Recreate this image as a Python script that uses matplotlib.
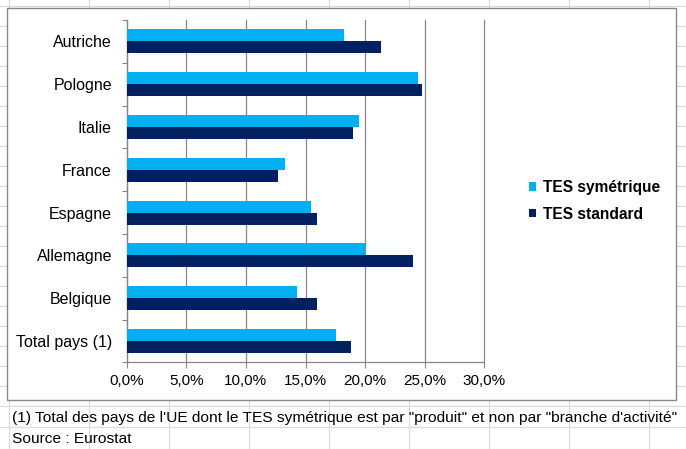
import matplotlib
matplotlib.use("Agg")
import matplotlib.pyplot as plt
from matplotlib.patches import Rectangle, Patch
import numpy as np

plt.rcParams['font.family'] = ['Liberation Sans', 'DejaVu Sans']

# ---- data ----
categories = ["Autriche", "Pologne", "Italie", "France", "Espagne",
              "Allemagne", "Belgique", "Total pays (1)"]
tes_symetrique = [18.2, 24.4, 19.5, 13.3, 15.5, 20.0, 14.3, 17.6]
tes_standard = [21.3, 24.8, 19.0, 12.7, 16.0, 24.0, 16.0, 18.8]
series_labels = ["TES symétrique", "TES standard"]
xticks = [0, 5, 10, 15, 20, 25, 30]
xtick_labels = ["0,0%", "5,0%", "10,0%", "15,0%", "20,0%", "25,0%", "30,0%"]
footnote = "(1) Total des pays de l'UE dont le TES symétrique est par \"produit\" et non par \"branche d'activité\""
source = "Source : Eurostat"

col_sym = "#00B0F0"
col_std = "#002060"
grid_col = "#868686"

W, H = 686, 449
fig = plt.figure(figsize=(W / 100, H / 100), dpi=100)

# ---- background: spreadsheet grid + chart frame ----
bg = fig.add_axes([0, 0, 1, 1], zorder=-10)
bg.set_xlim(0, W)
bg.set_ylim(H, 0)
bg.axis("off")
sheet_col = "#D9D9D9"
for x in range(8, W, 80):
    bg.plot([x + 0.5, x + 0.5], [0, H], color=sheet_col, lw=0.8, zorder=0)
rows = list(range(5, 406, 20)) + [426.5, 448]
for yy in rows:
    bg.plot([0, W], [yy + 0.5, yy + 0.5], color=sheet_col, lw=0.8, zorder=0)
bg.add_patch(Rectangle((6.5, 7.5), 669, 392, facecolor="white",
                       edgecolor="#888888", lw=1.0, zorder=1))
bg.text(12, 422, footnote, fontsize=11.15, ha="left", va="baseline", color="black", zorder=2)
bg.text(12, 443, source, fontsize=11.15, ha="left", va="baseline", color="black", zorder=2)

# ---- chart axes ----
x0, x1 = 126.7, 484.3
y0, y1 = 20.0, 362.3
ax = fig.add_axes([x0 / W, 1 - y1 / H, (x1 - x0) / W, (y1 - y0) / H])
ax.set_facecolor("none")

y = np.arange(len(categories))
bh = 0.28
ax.barh(y - bh / 2, tes_symetrique, height=bh, color=col_sym, zorder=3, label=series_labels[0])
ax.barh(y + bh / 2, tes_standard, height=bh, color=col_std, zorder=3, label=series_labels[1])

ax.set_xlim(0, 30)
ax.set_ylim(len(categories) - 0.5, -0.5)
ax.set_xticks(xticks)
ax.set_xticklabels(xtick_labels, fontsize=11)
ax.set_yticks(y)
ax.set_yticklabels(categories, fontsize=11.5)
ax.set_yticks(np.arange(-0.5, len(categories)), minor=True)
ax.tick_params(axis="y", which="major", length=0, pad=10.6)
ax.tick_params(axis="y", which="minor", length=3.8, color=grid_col, width=0.8)
ax.tick_params(axis="x", which="major", length=4, color=grid_col, width=0.8, pad=4.5)

ax.xaxis.grid(True, color=grid_col, lw=0.9, zorder=1)
for gl in ax.get_xgridlines():
    gl.set_clip_on(False)
ax.set_axisbelow(True)
for s in ["top", "right"]:
    ax.spines[s].set_visible(False)
for s in ["left", "bottom"]:
    ax.spines[s].set_color(grid_col)
    ax.spines[s].set_linewidth(0.9)

# ---- legend ----
handles = [Patch(facecolor=col_sym, edgecolor="none"),
           Patch(facecolor=col_std, edgecolor="none")]
leg = fig.legend(handles, series_labels, loc="center left",
                 bbox_to_anchor=(529.3 / W, 1 - 201 / H),
                 frameon=False, borderpad=0, borderaxespad=0,
                 handlelength=0.45, handleheight=0.45, handletextpad=0.43,
                 labelspacing=0.75, prop={"weight": "bold", "size": 11.2})

fig.savefig("out.png", dpi=100)
